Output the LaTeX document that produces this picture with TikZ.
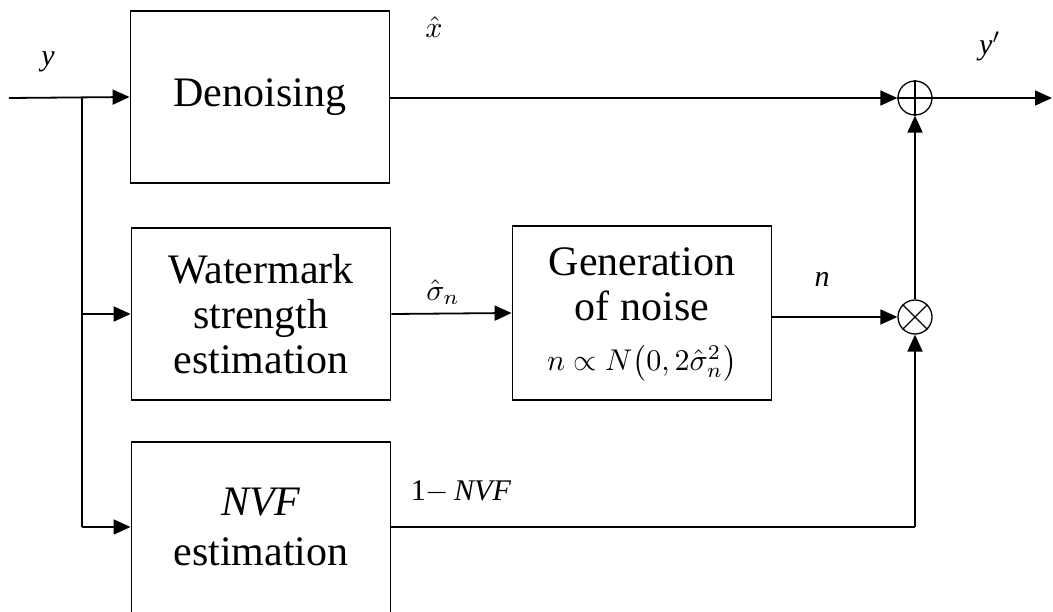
\documentclass[tikz,border=0pt]{standalone}
\usepackage{graphicx}
\usepackage{fontspec}
\setmainfont{Liberation Serif}
\usetikzlibrary{arrows.meta}
\newcommand\mymth[2]{{\fontsize{10}{12}\selectfont\scalebox{#1}{$#2$}}}
\begin{document}
\begin{tikzpicture}[x=1pt,y=-1pt,
  blk/.style={draw,line width=1.8pt,minimum width=259pt,inner sep=0pt,align=center,
    font=\fontsize{42}{45}\selectfont},
  lbl/.style={inner sep=0pt,font=\fontsize{30}{34}\selectfont},
  conn/.style={line width=1.8pt,-{Triangle[length=17pt,width=15pt]}},
  wire/.style={line width=1.8pt},
  sumop/.style={circle,draw,line width=1.3pt,minimum size=34pt,inner sep=0pt}
]
\useasboundingbox (0,0) rectangle (1053,612);
\clip (0,0) rectangle (1053,612);

\node[blk,minimum height=172pt] (den) at (260,97) {Denoising};
\node[blk,minimum height=172pt] (wm) at (261,314) {Watermark\\strength\\estimation};
\node[blk,minimum height=174pt] (gen) at (642,313) {};
\node[inner sep=0pt,align=center,font=\fontsize{42}{45}\selectfont] (gentext) at (642,284) {Generation\\of noise};
\node[inner sep=0pt] (genform) at (642,363) {\mymth{3.0}{n\propto N\!\left(0,2\hat{\sigma}_n^{2}\right)}};
\node[blk,minimum height=180pt] (nvf) at (261,532) {};
\node[inner sep=0pt,align=center,font=\fontsize{42}{50}\selectfont] (nvftext) at (261,527) {\textit{NVF}\\estimation};

\node[sumop] (plus) at (915,98) {};
\draw[line width=1.3pt] (plus.north) -- (plus.south) (plus.west) -- (plus.east);
\node[sumop] (times) at (915,317) {};
\draw[line width=1.3pt] (times.north west) -- (times.south east) (times.north east) -- (times.south west);

\coordinate (in) at (9,98);
\coordinate (br) at (82,98);
\coordinate (brwm) at (82,314);
\coordinate (brnvf) at (82,527);
\coordinate (out) at (1052,98);
\coordinate (corner) at (915,527);

\draw[conn] (in) -- (den.west);
\draw[wire] (br) -- (brnvf);
\draw[conn] (brwm) -- (wm.west);
\draw[conn] (brnvf) -- (brnvf -| nvf.west);
\draw[conn] (den.east |- plus) -- (plus.west);
\draw[conn] (plus.east) -- (out);
\draw[conn] (wm.east) -- (gen.west);
\draw[conn] (gen.east |- times) -- (times.west);
\draw[conn] (times.north) -- (plus.south);
\draw[wire] (nvf.east |- corner) -- (corner);
\draw[conn] (corner) -- (times.south);

\node[lbl] (ly) at (48,62) {\textit{y}};
\node[lbl] (lx) at (434,27) {\mymth{3}{\hat{x}}};
\node[lbl] (lyp) at (990,46) {\textit{y}\mymth{3}{'}};
\node[lbl] (ls) at (443,292) {\mymth{3}{\hat{\sigma}_n}};
\node[lbl] (ln) at (822,279) {\textit{n}};
\node[lbl] (l1) at (461,492) {1\mymth{3}{-}\,\textit{NVF}};
\end{tikzpicture}
\end{document}
